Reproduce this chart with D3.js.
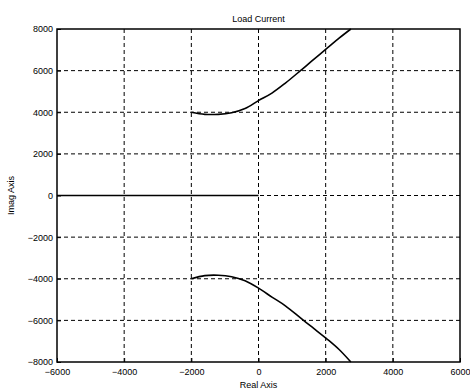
<!DOCTYPE html>
<html>
<head>
<meta charset="utf-8">
<script src="https://cdn.jsdelivr.net/npm/d3@7"></script>
<style>
  body { margin: 0; background: #fff; }
  svg { display: block; font-family: "Liberation Sans", Arial, sans-serif; }
  .grid line { stroke: #000; stroke-dasharray: 4 3; stroke-width: 1; }
</style>
</head>
<body>
<svg width="470" height="392"></svg>
<script>
"use strict";

// tick values (both axes)
const xTicks = [-6000, -4000, -2000, 0, 2000, 4000, 6000];
const yTicks = [-8000, -6000, -4000, -2000, 0, 2000, 4000, 6000, 8000];

// locus branch above the real axis
const upperReal = [-2000, -1600, -1200, -800, -400, 0, 400, 800, 1250, 1600, 2060, 2400, 2750];
const upperImag = [4000, 3900, 3900, 3980, 4180, 4560, 4920, 5400, 6000, 6480, 7100, 7560, 8000];

// locus branch below the real axis
const lowerReal = [-2000, -1600, -1200, -800, -400, 0, 400, 800, 1250, 1600, 2060, 2400, 2750];
const lowerImag = [-4000, -3850, -3830, -3900, -4100, -4450, -4880, -5300, -5880, -6330, -6920, -7400, -8000];

// branch lying on the real axis
const axisReal = [-6000, 0];
const axisImag = [0, 0];

const svg = d3.select("svg");
const plotLeft = 57, plotRight = 460, plotTop = 29, plotBottom = 362;

const x = d3.scaleLinear().domain([-6000, 6000]).range([plotLeft, plotRight]);
const y = d3.scaleLinear().domain([-8000, 8000]).range([plotBottom, plotTop]);

// dashed grid
const grid = svg.append("g").attr("class", "grid");
grid.selectAll(".gx")
  .data(xTicks.slice(1, -1))
  .enter().append("line")
  .attr("x1", d => x(d)).attr("x2", d => x(d))
  .attr("y1", plotTop).attr("y2", plotBottom);
grid.selectAll(".gy")
  .data(yTicks.slice(1, -1))
  .enter().append("line")
  .attr("x1", plotLeft).attr("x2", plotRight)
  .attr("y1", d => y(d)).attr("y2", d => y(d));

// axes, ticks inside like matlab
const xAxis = d3.axisBottom(x).tickValues(xTicks).tickSize(-4).tickPadding(7).tickFormat(d3.format("d"));
const yAxis = d3.axisLeft(y).tickValues(yTicks).tickSize(-4).tickPadding(4).tickFormat(d3.format("d"));

const gx = svg.append("g").attr("transform", `translate(0,${plotBottom})`).call(xAxis);
const gy = svg.append("g").attr("transform", `translate(${plotLeft},0)`).call(yAxis);
[gx, gy].forEach(g => {
  g.select(".domain").remove();
  g.selectAll("text").attr("font-size", 9).attr("font-family", "Liberation Sans, Arial, sans-serif").attr("fill", "#000");
  g.selectAll("line").attr("stroke", "#000");
});

// box
svg.append("rect")
  .attr("x", plotLeft).attr("y", plotTop)
  .attr("width", plotRight - plotLeft).attr("height", plotBottom - plotTop)
  .attr("fill", "none").attr("stroke", "#000").attr("stroke-width", 1.5);

// locus curves
const line = d3.line().x(d => x(d[0])).y(d => y(d[1])).curve(d3.curveCatmullRom);
const branches = [
  d3.zip(upperReal, upperImag),
  d3.zip(lowerReal, lowerImag),
  d3.zip(axisReal, axisImag)
];
svg.selectAll(".locus")
  .data(branches)
  .enter().append("path")
  .attr("class", "locus")
  .attr("d", line)
  .attr("fill", "none")
  .attr("stroke", "#000")
  .attr("stroke-width", 1.6);

// labels
svg.append("text")
  .attr("x", (plotLeft + plotRight) / 2).attr("y", 22)
  .attr("text-anchor", "middle").attr("font-size", 9)
  .text("Load Current");
svg.append("text")
  .attr("x", (plotLeft + plotRight) / 2).attr("y", 388)
  .attr("text-anchor", "middle").attr("font-size", 9)
  .text("Real Axis");
svg.append("text")
  .attr("transform", `translate(14,${(plotTop + plotBottom) / 2}) rotate(-90)`)
  .attr("text-anchor", "middle").attr("font-size", 9)
  .text("Imag Axis");
</script>
</body>
</html>
